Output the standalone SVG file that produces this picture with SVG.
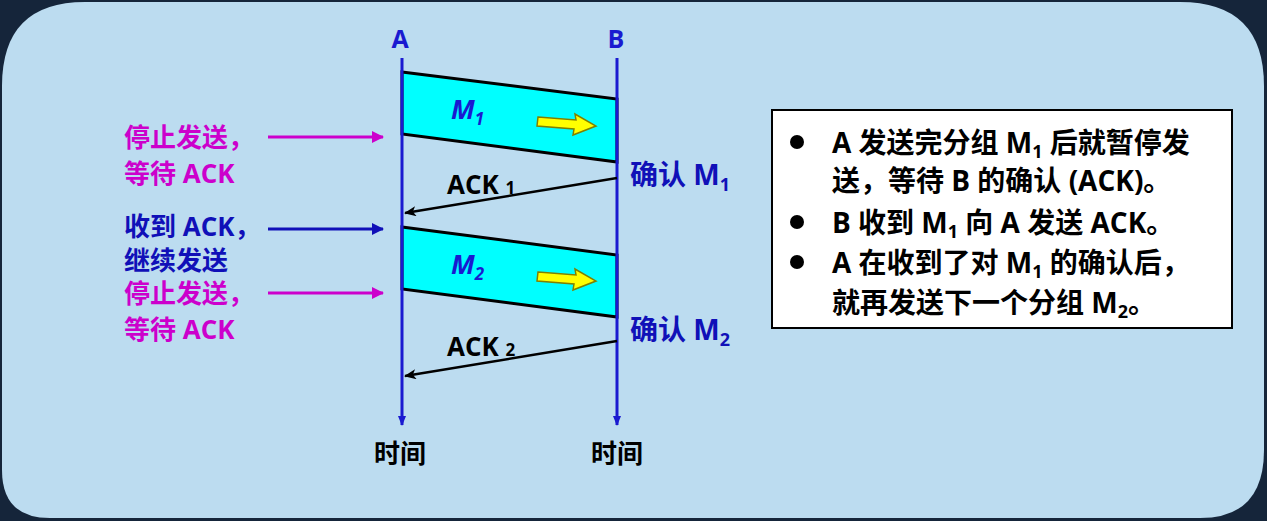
<svg xmlns="http://www.w3.org/2000/svg" width="1267" height="521" viewBox="0 0 1267 521">
<style>
text{font-family:"Open Sans","Noto Sans CJK SC",sans-serif;font-weight:bold}
.mag{fill:#cc00cc;font-size:26px}
.blu{fill:#1010b8;font-size:26px}
.blk{fill:#000;font-size:26px}
.box{fill:#000;font-size:28px}
.life{stroke:#1a1ad0;stroke-width:3}
.pkt{fill:#00ffff;stroke:#000;stroke-width:3}
.ack{stroke:#000;stroke-width:2.5}
</style>
<defs>
<marker id="ab" markerWidth="10" markerHeight="8" refX="9" refY="4" orient="auto" markerUnits="userSpaceOnUse"><path d="M0,0L10,4L0,8z" fill="#1a1ad0"/></marker>
<marker id="ak" markerWidth="12" markerHeight="10" refX="11" refY="5" orient="auto" markerUnits="userSpaceOnUse"><path d="M0,0L12,5L0,10L3,5z" fill="#000"/></marker>
<marker id="am" markerWidth="12" markerHeight="12" refX="11" refY="6" orient="auto" markerUnits="userSpaceOnUse"><path d="M0,0L12,6L0,12z" fill="#cc00cc"/></marker>
<marker id="an" markerWidth="12" markerHeight="12" refX="11" refY="6" orient="auto" markerUnits="userSpaceOnUse"><path d="M0,0L12,6L0,12z" fill="#1010b8"/></marker>
</defs>
<rect width="1267" height="521" fill="#15253a"/>
<path d="M85,2H1180Q1264,2 1264,86V450Q1264,518 1200,518H50Q2,518 2,470V86Q2,2 85,2z" fill="#bcdcf0"/>
<g id="packets">
<polygon class="pkt" points="402,72 617,99 617,162 402,134"/>
<polygon class="pkt" points="402,227 617,255 617,317 402,289"/>
<path d="M538,117L576,120L575,114L596,126L573,135L574,129L537,126z" fill="#ffff00" stroke="#808000" stroke-width="1.5"/>
<path d="M538,272L576,275L575,269L596,281L573,290L574,284L537,281z" fill="#ffff00" stroke="#808000" stroke-width="1.5"/>
<text x="451" y="119" fill="#1a1ad0" font-size="27" font-style="italic">M<tspan font-size="17" dy="6">1</tspan></text>
<text x="451" y="274" fill="#1a1ad0" font-size="27" font-style="italic">M<tspan font-size="17" dy="6">2</tspan></text>
</g>
<g id="connectors">
<line class="life" x1="402" y1="58" x2="402" y2="425" marker-end="url(#ab)"/>
<line class="life" x1="617" y1="58" x2="617" y2="425" marker-end="url(#ab)"/>
<line class="ack" x1="617" y1="178" x2="405" y2="213" marker-end="url(#ak)"/>
<line class="ack" x1="617" y1="341" x2="405" y2="376" marker-end="url(#ak)"/>
<line stroke="#cc00cc" stroke-width="3" x1="268" y1="137" x2="383" y2="137" marker-end="url(#am)"/>
<line stroke="#1010b8" stroke-width="3" x1="268" y1="229" x2="383" y2="229" marker-end="url(#an)"/>
<line stroke="#cc00cc" stroke-width="3" x1="268" y1="293" x2="383" y2="293" marker-end="url(#am)"/>
</g>
<g id="labels">
<text x="400" y="48" fill="#1a1ad0" font-size="25" text-anchor="middle">A</text>
<text x="616" y="48" fill="#1a1ad0" font-size="25" text-anchor="middle">B</text>
<text class="blk" x="400" y="463" text-anchor="middle">时间</text>
<text class="blk" x="617" y="463" text-anchor="middle">时间</text>
<text class="blk" x="447" y="194">ACK <tspan font-size="17">1</tspan></text>
<text class="blk" x="447" y="356">ACK <tspan font-size="17">2</tspan></text>
<text class="blu" x="630" y="185" style="font-size:28px">确认 M<tspan font-size="18" dy="6">1</tspan></text>
<text class="blu" x="630" y="340" style="font-size:28px">确认 M<tspan font-size="18" dy="6">2</tspan></text>
<text class="mag" x="124" y="147">停止发送，</text>
<text class="mag" x="124" y="183">等待 ACK</text>
<text class="blu" x="124" y="236">收到 ACK，</text>
<text class="blu" x="124" y="270">继续发送</text>
<text class="mag" x="124" y="303">停止发送，</text>
<text class="mag" x="124" y="339">等待 ACK</text>
</g>
<g id="infobox">
<rect x="772" y="110" width="460" height="218" fill="#fff" stroke="#000" stroke-width="2"/>
<circle cx="797" cy="142" r="7"/>
<circle cx="797" cy="222" r="7"/>
<circle cx="797" cy="262" r="7"/>
<text class="box" x="832" y="153">A 发送完分组 M<tspan font-size="18" dy="5">1</tspan><tspan dy="-5"> 后就暂停发</tspan></text>
<text class="box" x="832" y="191">送，等待 B 的确认 (ACK)。</text>
<text class="box" x="832" y="233">B 收到 M<tspan font-size="18" dy="5">1</tspan><tspan dy="-5"> 向 A 发送  ACK。</tspan></text>
<text class="box" x="832" y="273">A 在收到了对 M<tspan font-size="18" dy="5">1</tspan><tspan dy="-5"> 的确认后，</tspan></text>
<text class="box" x="832" y="313">就再发送下一个分组  M<tspan font-size="18" dy="5">2</tspan><tspan dy="-5">。</tspan></text>
</g>
</svg>
